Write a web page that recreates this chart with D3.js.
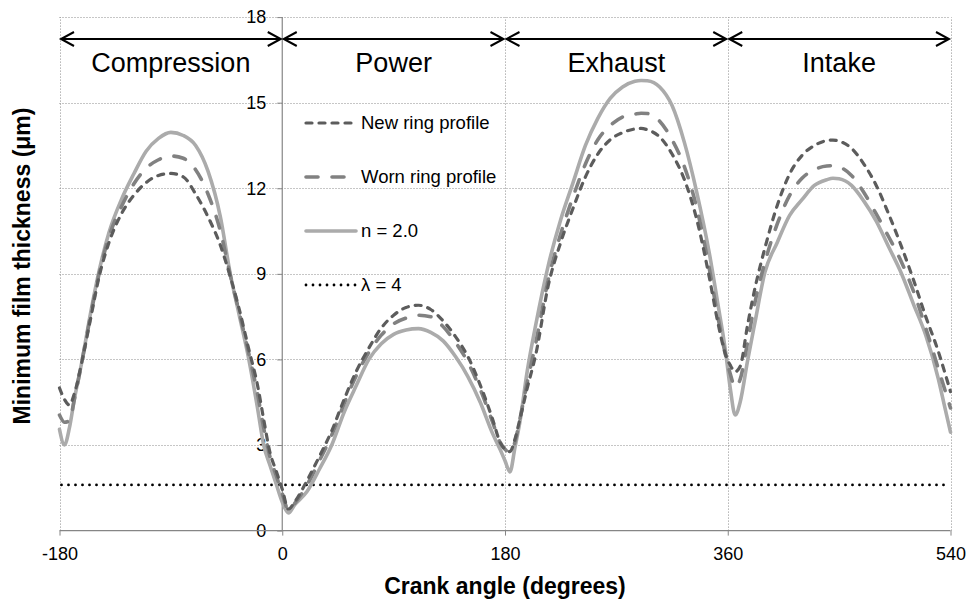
<!DOCTYPE html>
<html>
<head>
<meta charset="utf-8">
<script src="https://cdn.jsdelivr.net/npm/d3@7"></script>
<style>
  html, body { margin: 0; padding: 0; background: #fff; }
  svg { display: block; font-family: "Liberation Sans", Arial, sans-serif; }
</style>
</head>
<body>
<svg id="chart" width="971" height="603"></svg>
<script>
// Crank angle samples (degrees)
const angle = [-180,-176,-172,-168,-162,-155,-148,-140,-130,-120,-110,-100,-90,-80,-70,-60,-50,-42,-35,-27,-20,-15,-10,-5,0,5,
  10,20,30,40,50,60,70,80,90,100,110,120,130,140,150,160,170,176,180,184,188,192,198,205,215,225,235,245,255,265,275,285,290,295,
  305,315,325,335,345,352,358,362,366,370,376,382,390,400,410,420,430,440,445,450,460,470,480,490,500,510,520,530,535,540];

// Minimum film thickness (µm) for each profile
const newRing = [5.0,4.6,4.4,4.8,5.9,7.4,8.9,10.1,11.1,11.75,12.2,12.45,12.52,12.4,11.8,11.0,10.0,8.9,7.8,6.35,5.1,3.9,2.75,2.1,1.45,0.75,
  1.0,1.75,2.6,3.5,4.6,5.6,6.4,7.1,7.55,7.82,7.9,7.75,7.35,6.8,6.1,5.1,3.9,3.1,2.85,2.77,3.2,3.9,5.0,6.2,8.6,10.1,11.3,12.4,13.2,13.7,13.95,14.08,14.1,14.05,
  13.8,13.2,12.3,10.9,8.9,7.3,6.2,5.8,5.57,5.75,7.2,8.5,9.9,11.4,12.5,13.15,13.5,13.67,13.69,13.65,13.4,12.85,12.1,11.1,10.0,8.8,7.5,6.3,5.6,4.87];

const wornRing = [4.05,3.8,3.85,4.6,5.9,7.5,9.0,10.3,11.35,12.15,12.7,13.0,13.13,13.05,12.65,11.8,10.5,8.95,7.7,6.2,4.8,3.6,2.6,1.95,1.3,0.72,
  0.95,1.6,2.45,3.35,4.45,5.45,6.25,6.85,7.25,7.45,7.55,7.5,7.15,6.6,5.9,4.95,3.8,3.1,2.85,2.75,3.1,3.9,5.2,6.6,8.8,10.4,11.7,12.85,13.7,14.2,14.5,14.6,14.63,14.62,
  14.35,13.7,12.75,11.3,9.2,7.5,6.2,5.5,5.04,5.3,6.6,8.0,9.4,10.75,11.75,12.35,12.65,12.78,12.79,12.75,12.45,11.85,11.1,10.3,9.45,8.4,7.1,5.7,5.0,4.3];

const nTwo = [3.55,3.0,3.6,4.6,5.9,7.6,9.1,10.45,11.6,12.5,13.3,13.75,13.96,13.85,13.5,12.6,11.0,9.0,7.6,6.0,4.3,3.0,2.3,1.65,1.0,0.62,
  0.9,1.37,2.15,3.0,4.15,5.1,6.0,6.55,6.88,7.03,7.08,6.95,6.65,6.1,5.4,4.5,3.4,2.85,2.45,2.06,2.9,3.8,5.6,7.25,9.3,10.9,12.2,13.5,14.45,15.15,15.55,15.75,15.78,15.77,
  15.55,14.9,13.6,11.85,9.75,7.95,6.35,5.0,4.05,4.5,5.95,7.3,9.05,10.1,11.05,11.6,12.1,12.3,12.35,12.33,12.1,11.55,10.85,9.95,9.05,7.95,6.85,5.35,4.4,3.45];

// Film thickness where λ = 4
const lambdaLevel = 1.6;

const xTicks = [-180, 0, 180, 360, 540];
const yTicks = [0, 3, 6, 9, 12, 15, 18];

const strokes = ["Compression", "Power", "Exhaust", "Intake"];
const strokeBounds = [[-180, 0], [0, 180], [180, 360], [360, 540]];

const seriesNames = ["New ring profile", "Worn ring profile", "n = 2.0", "λ = 4"];

// ---- drawing ----
const svg = d3.select("#chart");
const x = d3.scaleLinear().domain([-180, 540]).range([59.5, 950.5]);
const y = d3.scaleLinear().domain([0, 18]).range([530.6, 17.1]);

const styles = {
  "New ring profile": { color: "#5c5c5c", width: 3.2, dash: "6,7", cap: "round" },
  "Worn ring profile": { color: "#818181", width: 3.6, dash: "12,14", cap: "round" },
  "n = 2.0": { color: "#ababab", width: 3.6, dash: null, cap: "round" },
  "λ = 4": { color: "#000000", width: 2.8, dash: "0,7", cap: "round" }
};

// gridlines (dotted)
const grid = svg.append("g");
grid.selectAll("line.h").data(yTicks.filter(d => d > 0)).join("line")
  .attr("x1", x(-180)).attr("x2", x(540))
  .attr("y1", d => Math.round(y(d)) + 0.5).attr("y2", d => Math.round(y(d)) + 0.5)
  .attr("stroke", "#8c8c8c").attr("stroke-width", 1).attr("stroke-dasharray", "1,2");
grid.selectAll("line.v").data(xTicks.filter(d => d !== 0)).join("line")
  .attr("x1", d => Math.round(x(d)) + 0.5).attr("x2", d => Math.round(x(d)) + 0.5)
  .attr("y1", y(0)).attr("y2", y(18))
  .attr("stroke", "#8c8c8c").attr("stroke-width", 1).attr("stroke-dasharray", "1,2");

// axes
const fmt = d => String(d);
const yAxis = d3.axisLeft(y).tickValues(yTicks).tickSize(5).tickPadding(11).tickFormat(fmt);
const gy = svg.append("g").attr("transform", `translate(${x(0)},0)`).call(yAxis);
const xAxis = d3.axisBottom(x).tickValues(xTicks).tickSize(5).tickPadding(12).tickFormat(fmt);
const gx = svg.append("g").attr("transform", `translate(0,${y(0)})`).call(xAxis);
[gx, gy].forEach(g => {
  g.select(".domain").attr("stroke", "#868686").attr("stroke-width", 1.2);
  g.selectAll(".tick line").attr("stroke", "#868686");
  g.selectAll(".tick text").attr("fill", "#000").style("font-size", "18px")
    .style("font-family", "\"Liberation Sans\", Arial, sans-serif");
});
gx.select(".domain").attr("d", `M${x(-180)},0H${x(540)}`);
gy.select(".domain").attr("d", `M0,${y(0)}V${y(18)}`);

// λ = 4 line
const lam = styles["λ = 4"];
svg.append("line")
  .attr("x1", x(-180) + 2).attr("x2", x(540))
  .attr("y1", y(lambdaLevel)).attr("y2", y(lambdaLevel))
  .attr("stroke", lam.color).attr("stroke-width", lam.width)
  .attr("stroke-dasharray", lam.dash).attr("stroke-linecap", lam.cap);

// film thickness curves
const line = d3.line().x((d, i) => x(angle[i])).y(d => y(d)).curve(d3.curveMonotoneX);
const drawOrder = [["n = 2.0", nTwo], ["Worn ring profile", wornRing], ["New ring profile", newRing]];
drawOrder.forEach(([name, vals]) => {
  const s = styles[name];
  svg.append("path").datum(vals)
    .attr("d", line)
    .attr("fill", "none")
    .attr("stroke", s.color).attr("stroke-width", s.width)
    .attr("stroke-dasharray", s.dash).attr("stroke-linecap", s.cap)
    .attr("stroke-linejoin", "round");
});

// stroke arrows and labels
const arrowY = 39;
const head = (tipX, dir) => `M${tipX + dir * 13},${arrowY - 7}L${tipX},${arrowY}L${tipX + dir * 13},${arrowY + 7}`;
strokeBounds.forEach(([a, b], i) => {
  const x1 = x(a) + 1.5, x2 = x(b) - 1.5;
  const g = svg.append("g").attr("stroke", "#000").attr("stroke-width", 2).attr("fill", "none");
  g.append("line").attr("x1", x1).attr("x2", x2).attr("y1", arrowY).attr("y2", arrowY);
  g.append("path").attr("d", head(x1, 1));
  g.append("path").attr("d", head(x2, -1));
  svg.append("text")
    .attr("x", (x(a) + x(b)) / 2).attr("y", 72)
    .attr("text-anchor", "middle")
    .style("font-size", "27px")
    .text(strokes[i]);
});

// legend
const legendRows = [123, 177, 231, 285];
seriesNames.forEach((name, i) => {
  const s = styles[name];
  svg.append("line")
    .attr("x1", 306).attr("x2", 356)
    .attr("y1", legendRows[i]).attr("y2", legendRows[i])
    .attr("stroke", s.color).attr("stroke-width", s.width)
    .attr("stroke-dasharray", s.dash).attr("stroke-linecap", s.cap);
  svg.append("text")
    .attr("x", 361).attr("y", legendRows[i])
    .attr("dy", "0.35em")
    .style("font-size", "18.5px")
    .text(name);
});

// axis titles
svg.append("text")
  .attr("x", 505).attr("y", 594)
  .attr("text-anchor", "middle")
  .style("font-size", "23px").style("font-weight", "bold")
  .text("Crank angle (degrees)");
svg.append("text")
  .attr("transform", "translate(30,266) rotate(-90)")
  .attr("text-anchor", "middle")
  .style("font-size", "23px").style("font-weight", "bold")
  .text("Minimum film thickness (μm)");
</script>
</body>
</html>
